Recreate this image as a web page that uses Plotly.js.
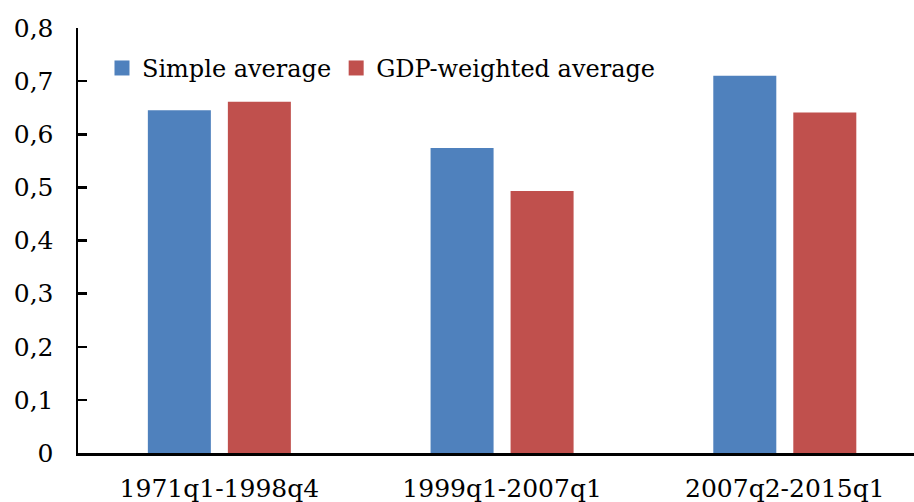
<!DOCTYPE html>
<html>
<head>
<meta charset="utf-8">
<script src="https://cdn.plot.ly/plotly-3.0.1.min.js"></script>
<style>
html,body{margin:0;padding:0;background:#fff;}
#chart{width:914px;height:502px;}
</style>
</head>
<body>
<div id="chart"></div>
<script>
var categories = ["1971q1-1998q4", "1999q1-2007q1", "2007q2-2015q1"];
var simpleAverage = [0.645, 0.574, 0.71];
var gdpWeightedAverage = [0.661, 0.493, 0.641];
var seriesNames = ["Simple average", "GDP-weighted average"];
var seriesColors = ["#4F81BD", "#C0504D"];
var yTicks = [0, 0.1, 0.2, 0.3, 0.4, 0.5, 0.6, 0.7, 0.8];

var FONT = "DejaVu Serif";

var traces = [
  {type: "bar", name: seriesNames[0], x: categories, y: simpleAverage,
   marker: {color: seriesColors[0]}, hoverinfo: "none", showlegend: false},
  {type: "bar", name: seriesNames[1], x: categories, y: gdpWeightedAverage,
   marker: {color: seriesColors[1]}, hoverinfo: "none", showlegend: false},
  {type: "scatter", mode: "markers", name: seriesNames[0], x: [categories[0]], y: [null],
   marker: {symbol: "square", size: 15, color: seriesColors[0]}, hoverinfo: "none", showlegend: true},
  {type: "scatter", mode: "markers", name: seriesNames[1], x: [categories[0]], y: [null],
   marker: {symbol: "square", size: 15, color: seriesColors[1]}, hoverinfo: "none", showlegend: true}
];

var layout = {
  width: 914, height: 502,
  margin: {l: 78, r: 0, t: 28, b: 49},
  paper_bgcolor: "#fff", plot_bgcolor: "#fff",
  separators: ", ",
  font: {family: FONT, size: 24, color: "#000"},
  barmode: "group",
  bargap: 0.434,
  bargroupgap: 0.2125,
  showlegend: true,
  legend: {
    orientation: "h", x: 0.0287, xanchor: "left", y: 0.905, yanchor: "middle",
    bgcolor: "rgba(0,0,0,0)", font: {family: FONT, size: 24, color: "#000"},
    itemsizing: "trace",
    traceorder: "normal", itemclick: false, itemdoubleclick: false
  },
  xaxis: {
    type: "category", range: [-0.5, 2.457],
    showline: true, linecolor: "#000", linewidth: 3,
    ticks: "", showgrid: false, zeroline: false,
    tickfont: {family: FONT, size: 25, color: "#000"},
    ticklabelstandoff: 11
  },
  yaxis: {
    range: [0, 0.8], tickvals: yTicks,
    showline: true, linecolor: "#000", linewidth: 2.5,
    ticks: "inside", ticklen: 9, tickwidth: 2.5, tickcolor: "#000",
    showgrid: false, zeroline: false,
    tickfont: {family: FONT, size: 25, color: "#000"},
    ticklabelstandoff: 17
  }
};

Plotly.newPlot("chart", traces, layout, {staticPlot: true, displayModeBar: false});
</script>
</body>
</html>
